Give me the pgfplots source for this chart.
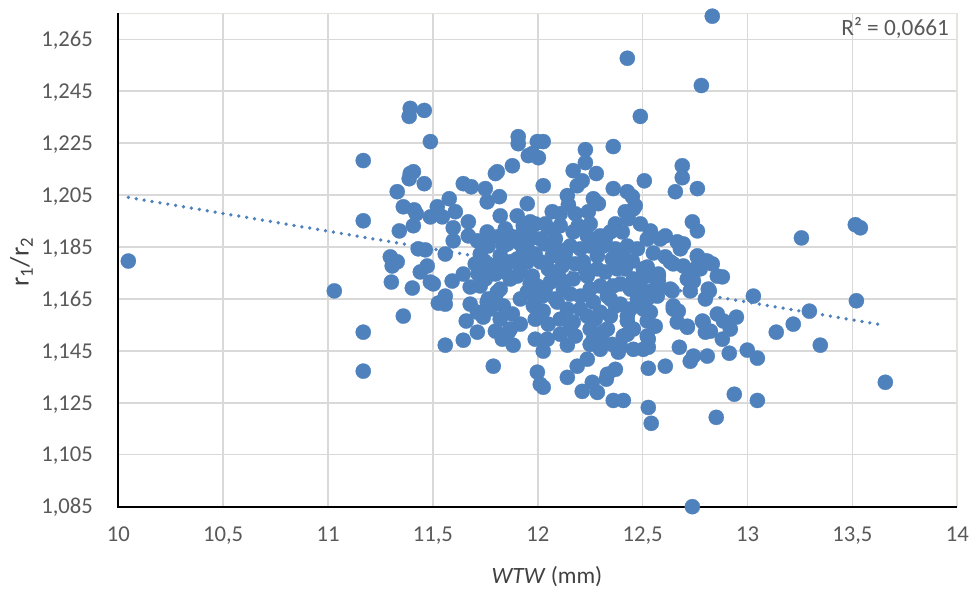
\documentclass[border=0pt]{standalone}
\usepackage{fontspec}
\setmainfont{Carlito}
\usepackage{pgfplots}
\pgfplotsset{compat=1.18}
\definecolor{ptblue}{HTML}{4F81BD}
\definecolor{gridgrey}{HTML}{D9D9D9}
\definecolor{ticktext}{HTML}{595959}
\definecolor{titletext}{HTML}{404040}
\definecolor{frameline}{HTML}{E6E3DC}

% WTW (mm) against the radius ratio r1/r2
\pgfplotstableread{
x y
10.048 1.1796
11.030 1.1681
11.168 1.2183
11.168 1.1951
11.168 1.1522
11.168 1.1372
11.488 1.2256
11.392 1.2384
11.387 1.2353
11.459 1.2376
11.392 1.2133
11.407 1.2140
11.387 1.2113
11.459 1.2094
11.330 1.2063
11.359 1.2005
11.411 1.1993
11.421 1.1978
11.407 1.1932
11.340 1.1912
11.521 1.2005
11.488 1.1966
11.545 1.1966
11.578 1.2036
11.607 1.1986
11.597 1.1924
11.669 1.1947
11.645 1.2094
11.683 1.2082
11.750 1.2075
11.759 1.2024
11.798 1.2133
11.817 1.2044
11.879 1.2163
11.907 1.2275
11.907 1.2248
11.955 1.2202
11.821 1.1970
11.902 1.1970
11.950 1.2017
11.430 1.1843
11.464 1.1839
11.297 1.1812
11.330 1.1793
11.306 1.1777
11.559 1.1823
11.473 1.1777
11.440 1.1754
11.488 1.1715
11.502 1.1708
11.302 1.1715
11.402 1.1692
11.592 1.1719
11.645 1.1746
11.678 1.1696
11.726 1.1700
11.559 1.1661
11.526 1.1634
11.559 1.1630
11.359 1.1584
11.659 1.1565
11.712 1.1599
11.740 1.1580
11.712 1.1522
11.645 1.1491
11.559 1.1472
11.788 1.1391
11.798 1.1526
11.831 1.1495
11.883 1.1472
11.869 1.1534
11.597 1.1874
11.669 1.1893
11.712 1.1874
11.759 1.1908
11.764 1.1854
11.807 1.1889
11.836 1.1854
11.869 1.1893
11.821 1.1793
11.902 1.1804
11.950 1.1843
11.931 1.1908
11.964 1.1947
11.998 1.2256
12.026 1.2256
11.974 1.2210
12.003 1.2194
12.489 1.2353
12.227 1.2225
12.227 1.2175
12.360 1.2237
12.169 1.2144
12.279 1.2133
12.212 1.2105
12.188 1.2086
12.026 1.2086
12.141 1.2048
12.146 1.2013
12.360 1.2075
12.427 1.2063
12.451 1.2044
12.465 1.2009
12.508 1.2105
12.689 1.2163
12.689 1.2117
12.656 1.2063
12.761 1.2075
12.737 1.1947
12.761 1.1912
12.265 1.2036
12.289 1.2017
12.241 1.1986
12.417 1.1986
12.456 1.1997
12.069 1.1986
12.537 1.1912
12.608 1.1893
12.665 1.1870
12.694 1.1862
12.761 1.1816
12.799 1.1796
13.257 1.1885
13.514 1.1936
13.538 1.1924
12.832 1.2739
12.780 1.2472
12.427 1.2577
11.807 1.2140
12.432 1.1959
12.880 1.1735
13.028 1.1661
12.818 1.1681
13.295 1.1603
13.218 1.1553
13.137 1.1522
13.519 1.1643
13.347 1.1472
13.657 1.1329
12.937 1.1283
13.047 1.1259
12.851 1.1194
12.737 1.0850
12.527 1.1232
12.541 1.1171
12.527 1.1383
12.608 1.1391
12.727 1.1410
12.742 1.1430
12.808 1.1430
12.913 1.1441
12.999 1.1453
13.047 1.1422
12.675 1.1464
12.527 1.1464
12.527 1.1495
12.785 1.1565
12.799 1.1522
12.856 1.1592
12.885 1.1565
12.918 1.1534
12.947 1.1580
12.880 1.1495
12.713 1.1541
12.665 1.1561
12.560 1.1545
12.522 1.1565
12.646 1.1611
12.670 1.1603
12.537 1.1599
12.522 1.1650
12.641 1.1681
12.522 1.1773
12.575 1.1746
12.575 1.1719
12.489 1.1715
12.646 1.1785
12.694 1.1777
12.751 1.1766
12.789 1.1793
12.742 1.1719
12.761 1.1812
12.012 1.1321
12.026 1.1310
11.998 1.1368
12.141 1.1348
12.188 1.1391
12.236 1.1418
12.212 1.1294
12.260 1.1329
12.284 1.1290
12.332 1.1360
12.370 1.1379
12.360 1.1259
12.408 1.1259
12.327 1.1341
11.988 1.1495
12.045 1.1495
12.026 1.1449
12.141 1.1472
12.265 1.1495
12.312 1.1522
12.394 1.1468
12.427 1.1565
12.427 1.1514
12.456 1.1456
11.845 1.1920
11.855 1.1862
11.821 1.1816
11.869 1.1793
11.845 1.1754
11.821 1.1688
11.798 1.1650
11.836 1.1623
11.879 1.1592
11.860 1.1522
11.907 1.1889
11.931 1.1932
11.964 1.1920
11.988 1.1939
12.012 1.1881
11.931 1.1843
11.950 1.1793
11.917 1.1754
11.974 1.1738
12.012 1.1793
11.998 1.1700
11.950 1.1677
11.979 1.1623
12.026 1.1603
12.022 1.1661
12.060 1.1715
12.050 1.1766
12.069 1.1816
12.050 1.1920
12.107 1.1932
12.093 1.1843
12.117 1.1777
12.093 1.1738
12.122 1.1688
12.093 1.1638
12.141 1.1611
12.107 1.1572
12.169 1.1561
12.155 1.1534
12.179 1.1507
12.169 1.1908
12.193 1.1932
12.236 1.1893
12.155 1.1854
12.203 1.1843
12.250 1.1854
12.284 1.1816
12.217 1.1793
12.169 1.1727
12.236 1.1738
12.284 1.1766
12.250 1.1688
12.298 1.1700
12.203 1.1661
12.265 1.1638
12.298 1.1599
12.236 1.1584
12.250 1.1534
12.298 1.1495
12.332 1.1534
12.346 1.1584
12.370 1.1623
12.332 1.1661
12.360 1.1700
12.322 1.1754
12.379 1.1766
12.355 1.1804
12.312 1.1854
12.298 1.1893
12.346 1.1908
12.403 1.1908
12.427 1.1854
12.408 1.1816
12.451 1.1796
12.475 1.1843
12.522 1.1881
12.551 1.1827
12.503 1.1766
12.537 1.1738
12.456 1.1727
12.441 1.1688
12.475 1.1650
12.522 1.1677
12.570 1.1700
12.503 1.1611
12.427 1.1584
12.456 1.1534
12.408 1.1507
12.384 1.1445
12.522 1.1507
12.503 1.1456
11.745 1.1796
11.716 1.1746
11.764 1.1650
11.678 1.1630
11.774 1.1777
11.902 1.1738
11.807 1.1677
11.759 1.1638
11.917 1.1862
11.988 1.1823
12.036 1.1862
12.084 1.1881
12.131 1.1823
12.179 1.1785
12.227 1.1766
12.107 1.1727
12.036 1.1688
11.964 1.1708
11.917 1.1650
11.988 1.1650
12.084 1.1650
12.155 1.1669
12.203 1.1611
12.274 1.1572
12.346 1.1650
12.394 1.1708
12.417 1.1766
12.370 1.1843
12.322 1.1881
12.250 1.1939
12.179 1.1978
12.107 1.1978
12.036 1.1939
11.964 1.1881
11.869 1.1727
12.489 1.1939
12.370 1.1939
12.394 1.1630
12.441 1.1611
12.489 1.1688
12.584 1.1881
12.608 1.1812
12.680 1.1843
12.775 1.1766
12.832 1.1785
12.727 1.1681
12.799 1.1650
11.726 1.1823
11.702 1.1785
11.750 1.1727
11.798 1.1746
11.774 1.1611
11.821 1.1572
11.917 1.1553
11.988 1.1572
12.298 1.1456
12.355 1.1475
12.250 1.1475
12.107 1.1514
12.050 1.1553
12.632 1.1793
12.575 1.1738
12.632 1.1688
12.713 1.1727
12.813 1.1688
12.856 1.1738
12.570 1.1661
12.646 1.1623
12.713 1.1545
12.789 1.1561
12.823 1.1526
12.808 1.1796
}\wtwdata

\begin{document}
\begin{tikzpicture}
\begin{axis}[
  scale only axis,
  width=629.25pt, height=370pt,
  xmin=10, xmax=14, ymin=1.085, ymax=1.275,
  xtick={10,10.5,11,11.5,12,12.5,13,13.5,14},
  ytick={1.085,1.105,1.125,1.145,1.165,1.185,1.205,1.225,1.245,1.265},
  /pgf/number format/assume math mode=true,
  ticklabel style={font=\fontsize{17}{20}\selectfont, text=ticktext, inner sep=0pt},
  xticklabel style={anchor=base, yshift=-26pt,
    /pgf/number format/fixed, /pgf/number format/precision=1,
    /pgf/number format/use comma},
  yticklabel style={anchor=base east, xshift=-18.8pt, yshift=-5.4pt,
    /pgf/number format/fixed, /pgf/number format/fixed zerofill,
    /pgf/number format/precision=3, /pgf/number format/use comma},
  major tick length=0pt,
  grid=major,
  major grid style={gridgrey, line width=1.1pt},
  axis line style={frameline, line width=1.2pt},
  clip=false,
  xlabel={\textit{WTW} (mm)},
  ylabel={r\textsubscript{1}/r\textsubscript{2}},
  xlabel style={font=\fontsize{17.5}{20}\selectfont, text=titletext,
    at={(axis description cs:0.511,0)}, anchor=center, yshift=-52.6pt},
  ylabel style={font=\fontsize{20}{24}\selectfont, text=titletext,
    at={(axis description cs:-0.1154,0.496)}, anchor=center},
]
% left and bottom axis lines in black
\draw[black, line width=1.7pt] (rel axis cs:0,1) -- (rel axis cs:0,0) -- (rel axis cs:1,0);

\addplot[only marks, mark=*, mark size=5.7pt, ptblue,
  mark options={fill=ptblue, draw=ptblue, line width=0.2pt}]
  table[x=x, y=y] {\wtwdata};

% linear trendline
\addplot[ptblue, line width=2.8pt, line cap=round, dash pattern=on 0pt off 6pt]
  coordinates {(10.048,1.2041) (13.657,1.1548)};

\node[anchor=base east, inner sep=0pt, text=ticktext, font=\fontsize{17.5}{20}\selectfont]
  at (rel axis cs:1,1) [xshift=-6pt, yshift=-16.3pt] {R² = 0,0661};
\end{axis}
\pgfresetboundingbox
\useasboundingbox (-88.7pt,-61.7pt) rectangle (639.55pt,380pt);
\end{tikzpicture}
\end{document}
